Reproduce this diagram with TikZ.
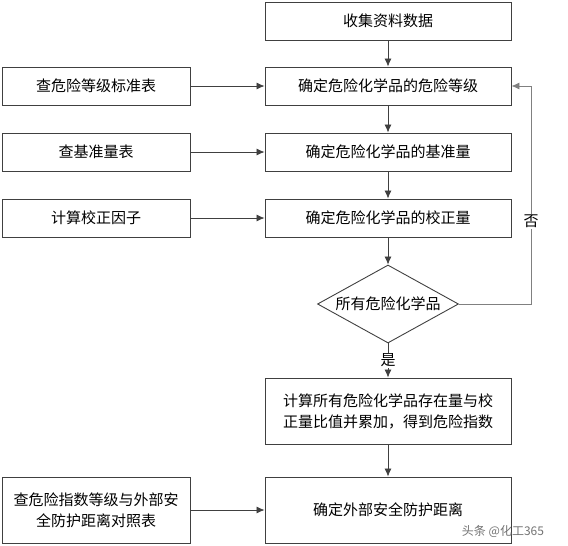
\documentclass[tikz,border=0pt]{standalone}
\usepackage{fontspec}
\setmainfont{Noto Sans CJK SC}
\usetikzlibrary{shapes.geometric,arrows.meta}

\begin{document}
\begin{tikzpicture}[x=1pt,y=-1pt,
    font=\fontsize{15}{21}\selectfont,
    box/.style={draw=black!75,line width=0.9pt,minimum width=246pt,minimum height=38pt,inner sep=0pt,align=center},
    side/.style={box,minimum width=188pt},
    tall/.style={minimum height=66pt},
    check/.style={draw=black!75,line width=0.9pt,diamond,minimum width=141pt,minimum height=78pt,inner sep=0pt,aspect=1.8},
    arr/.style={draw=black!75,line width=0.8pt,-{Latex[length=8pt,width=7pt]}},
    loopline/.style={arr,draw=black!50}]
\useasboundingbox (0,0) rectangle (568,546);
\node[box] (collect) at (388,21) {收集资料数据};
\node[box] (level) at (388,86) {确定危险化学品的危险等级};
\node[box] (base) at (388,152) {确定危险化学品的基准量};
\node[box] (corr) at (388,218) {确定危险化学品的校正量};
\node[check] (all) at (388,304) {所有危险化学品};
\node[box,tall] (index) at (388,411) {计算所有危险化学品存在量与校\\正量比值并累加，得到危险指数};
\node[box,tall] (dist) at (388,510) {确定外部安全防护距离};
\node[side] (levtab) at (96,86) {查危险等级标准表};
\node[side] (basetab) at (96,152) {查基准量表};
\node[side] (factor) at (96,218) {计算校正因子};
\node[side,tall] (disttab) at (96,510) {查危险指数等级与外部安\\全防护距离对照表};
\coordinate (turn) at (531,304);
\draw[arr] (collect) -- (level);
\draw[arr] (level) -- (base);
\draw[arr] (base) -- (corr);
\draw[arr] (corr) -- (all);
\draw[arr] (all) -- node[fill=white,inner sep=1pt] {是} (index);
\draw[arr] (index) -- (dist);
\draw[arr] (levtab) -- (level);
\draw[arr] (basetab) -- (base);
\draw[arr] (factor) -- (corr);
\draw[arr] (disttab) -- (dist);
\draw[loopline] (all.east) -- (turn) |- node[pos=0.19,fill=white,inner sep=1pt] {否} (level.east);
\node[text=black!55,font=\fontsize{12}{14}\selectfont] (mark) at (503,531) {头条 @化工365};
\end{tikzpicture}
\end{document}
